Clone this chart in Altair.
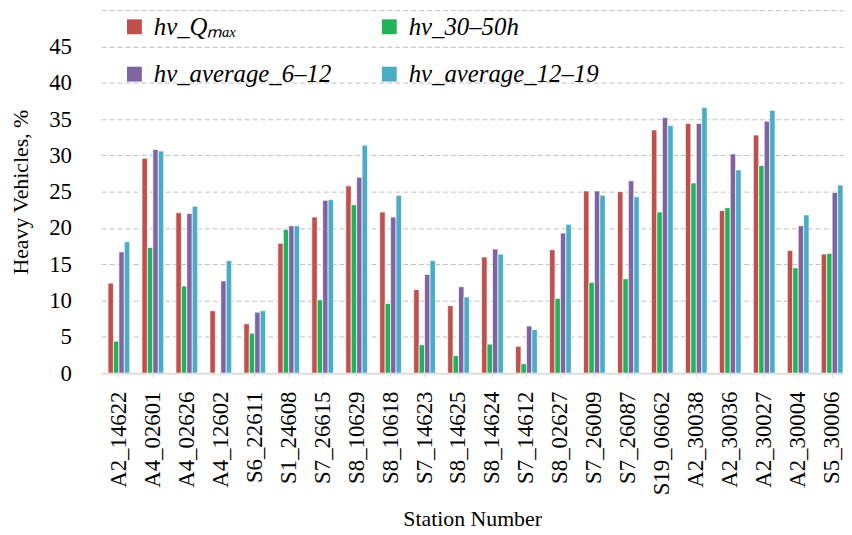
import altair as alt
import pandas as pd

stations = ["A2_14622", "A4_02601", "A4_02626", "A4_12602", "S6_22611", "S1_24608",
            "S7_26615", "S8_10629", "S8_10618", "S7_14623", "S8_14625", "S8_14624",
            "S7_14612", "S8_02627", "S7_26009", "S7_26087", "S19_06062", "A2_30038",
            "A2_30036", "A2_30027", "A2_30004", "S5_30006"]
hv_qmax = [12.4, 29.6, 22.1, 8.6, 6.8, 17.9, 21.5, 25.8, 22.2, 11.5, 9.3, 16.0,
           3.7, 17.0, 25.1, 25.0, 33.5, 34.4, 22.4, 32.8, 16.9, 16.4]
hv_30_50h = [4.4, 17.3, 12.0, 0.0, 5.5, 19.8, 10.1, 23.2, 9.6, 3.9, 2.4, 4.0,
             1.3, 10.3, 12.5, 13.0, 22.2, 26.2, 22.8, 28.6, 14.5, 16.5]
hv_avg_6_12 = [16.7, 30.8, 22.0, 12.7, 8.4, 20.3, 23.8, 27.0, 21.5, 13.6, 11.9, 17.1,
               6.5, 19.3, 25.1, 26.5, 35.2, 34.4, 30.2, 34.7, 20.3, 24.9]
hv_avg_12_19 = [18.1, 30.6, 23.0, 15.5, 8.6, 20.3, 23.9, 31.4, 24.5, 15.5, 10.5, 16.4,
                6.0, 20.5, 24.5, 24.3, 34.1, 36.6, 28.0, 36.2, 21.8, 25.9]

series_names = ["hv_Qₘₐₓ", "hv_30–50h", "hv_average_6–12", "hv_average_12–19"]
colors = ["#C0504D", "#22B35A", "#8064A2", "#4BACC6"]
series_values = [hv_qmax, hv_30_50h, hv_avg_6_12, hv_avg_12_19]

# legend is filled column by column: order so rows read Qmax, 30-50h / 6-12, 12-19
legend_order = [series_names[0], series_names[2], series_names[1], series_names[3]]
legend_colors = [colors[0], colors[2], colors[1], colors[3]]

rows = []
for i, st in enumerate(stations):
    for name, vals in zip(series_names, series_values):
        rows.append({"station": st, "series": name, "value": vals[i]})
df = pd.DataFrame(rows)

FONT = "Liberation Serif"

chart = alt.Chart(df).mark_bar(stroke="white", strokeWidth=0.7).encode(
    x=alt.X("station:N", sort=stations, title="Station Number",
            scale=alt.Scale(paddingInner=0.36, paddingOuter=0.1, align=1),
            axis=alt.Axis(labelAngle=270, labelFontSize=23, labelFont=FONT, labelColor="black",
                          labelPadding=14, domainColor="#d9d9d9", domainWidth=2,
                          tickColor="#d9d9d9", tickSize=4, titleFont=FONT, titleFontSize=22,
                          titleFontWeight="normal", titleColor="black", titlePadding=14)),
    xOffset=alt.XOffset("series:N", sort=series_names),
    y=alt.Y("value:Q", title="Heavy Vehicles, %",
            scale=alt.Scale(domain=[0, 50], nice=False),
            axis=alt.Axis(values=list(range(0, 55, 5)),
                          labelExpr="datum.value == 50 ? '' : datum.label",
                          grid=True, gridDash=[5, 3], gridColor="#bfbfbf", gridWidth=1,
                          domain=False, ticks=False, labelFont=FONT, labelFontSize=23,
                          labelColor="black", labelPadding=30, titleFont=FONT,
                          titleFontSize=22, titleFontWeight="normal", titleColor="black",
                          titlePadding=16)),
    color=alt.Color("series:N",
                    scale=alt.Scale(domain=legend_order, range=legend_colors),
                    legend=alt.Legend(title=None, orient="none", legendX=21, legendY=4,
                                      columns=2, columnPadding=45, rowPadding=22,
                                      symbolType="square", symbolSize=225,
                                      symbolStrokeWidth=0, labelFont=FONT,
                                      labelFontSize=25, labelFontStyle="italic",
                                      labelColor="black", labelLimit=300, labelOffset=7)),
).properties(
    width=748, height=366,
    padding={"left": 2, "top": 0, "right": 0, "bottom": 0},
).configure(font=FONT).configure_axis(labelFont=FONT, titleFont=FONT).configure_legend(
    labelFont=FONT
).configure_view(stroke=None)

chart.save("out.html", embed_options={"renderer": "svg", "actions": False})
